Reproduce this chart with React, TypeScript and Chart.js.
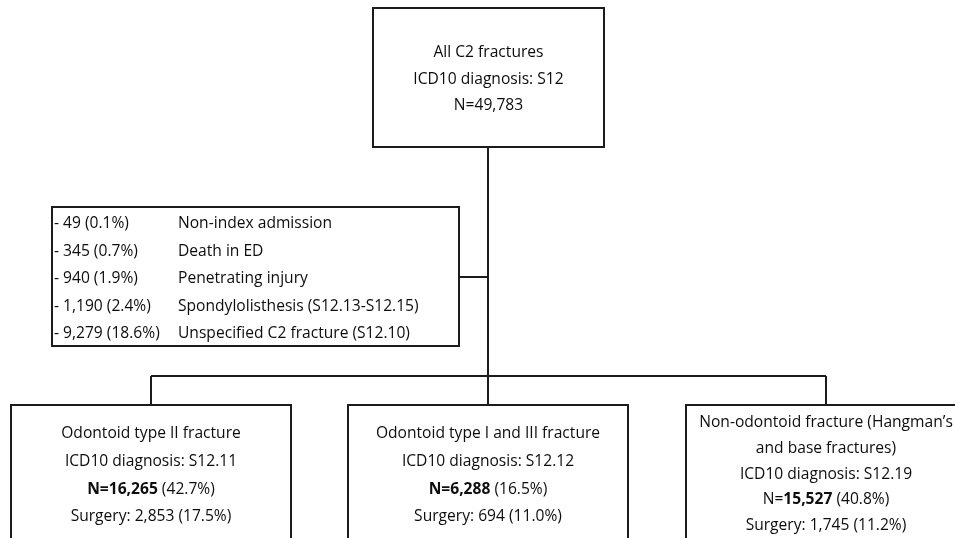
import React, { useEffect, useRef } from "react";
import { Chart, registerables } from "chart.js";

Chart.register(...registerables);

// ---- content ----
const TOP_LINES = ["All C2 fractures", "ICD10 diagnosis: S12", "N=49,783"];
const EXCL_COUNTS = ["- 49 (0.1%)", "- 345 (0.7%)", "- 940 (1.9%)", "- 1,190 (2.4%)", "- 9,279 (18.6%)"];
const EXCL_REASONS = [
  "Non-index admission",
  "Death in ED",
  "Penetrating injury",
  "Spondylolisthesis (S12.13-S12.15)",
  "Unspecified C2 fracture (S12.10)",
];
const GROUP_TITLES = [
  ["Odontoid type II fracture"],
  ["Odontoid type I and III fracture"],
  ["Non-odontoid fracture (Hangman\u2019s", "and base fractures)"],
];
const GROUP_CODES = ["S12.11", "S12.12", "S12.19"];
const GROUP_N = ["16,265", "6,288", "15,527"];
const GROUP_PCT = ["42.7%", "16.5%", "40.8%"];
const GROUP_BOLD_PREFIX = [true, true, false];
const SURGERY_N = ["2,853", "694", "1,745"];
const SURGERY_PCT = ["17.5%", "11.0%", "11.2%"];

// ---- layout (in scale units, canvas-sized) ----
const W = 955;
const H = 538;
const TOP_BOX = { x0: 373, x1: 604, y0: 8, y1: 147 };
const EXCL_BOX = { x0: 52, x1: 459, y0: 207, y1: 346 };
const GROUP_CENTERS = [151, 488, 826];
const GROUP_HALF = 140;
const GROUP_TOP = 405;
const MAIN_X = 488;
const EXCL_JOIN_Y = 277;
const BRANCH_Y = 376;

const FONT = '"Open Sans", "Noto Sans", sans-serif';
const SIZE = 15.6;
const INK = "#0d0d0d";
const LINE = "#1c1c1c";

type Seg = { t: string; bold?: boolean };

const flowPlugin = {
  id: "flow",
  afterDraw(chart: any) {
    const ctx: CanvasRenderingContext2D = chart.ctx;
    const xs = chart.scales.x;
    const ys = chart.scales.y;
    const px = (v: number) => xs.getPixelForValue(v);
    const py = (v: number) => ys.getPixelForValue(v);

    ctx.save();
    ctx.strokeStyle = LINE;
    ctx.lineWidth = 2;

    const rect = (b: { x0: number; x1: number; y0: number; y1: number }) => {
      ctx.strokeRect(px(b.x0), py(b.y0), px(b.x1) - px(b.x0), py(b.y1) - py(b.y0));
    };
    const seg = (x0: number, y0: number, x1: number, y1: number) => {
      ctx.beginPath();
      ctx.moveTo(px(x0), py(y0));
      ctx.lineTo(px(x1), py(y1));
      ctx.stroke();
    };

    // boxes
    rect(TOP_BOX);
    rect(EXCL_BOX);
    GROUP_CENTERS.forEach((c) => rect({ x0: c - GROUP_HALF, x1: c + GROUP_HALF, y0: GROUP_TOP, y1: H + 20 }));

    // connectors
    seg(MAIN_X, TOP_BOX.y1, MAIN_X, BRANCH_Y);
    seg(EXCL_BOX.x1, EXCL_JOIN_Y, MAIN_X, EXCL_JOIN_Y);
    seg(GROUP_CENTERS[0], BRANCH_Y, GROUP_CENTERS[GROUP_CENTERS.length - 1], BRANCH_Y);
    GROUP_CENTERS.forEach((c) => seg(c, BRANCH_Y, c, GROUP_TOP));

    // text
    ctx.fillStyle = INK;
    ctx.textBaseline = "middle";
    const fontOf = (bold?: boolean) => `${bold ? "bold " : ""}${SIZE}px ${FONT}`;
    const drawCentered = (segs: Seg[], cx: number, cy: number) => {
      let total = 0;
      segs.forEach((s) => {
        ctx.font = fontOf(s.bold);
        total += ctx.measureText(s.t).width;
      });
      let x = px(cx) - total / 2;
      ctx.textAlign = "left";
      segs.forEach((s) => {
        ctx.font = fontOf(s.bold);
        ctx.fillText(s.t, x, py(cy));
        x += ctx.measureText(s.t).width;
      });
    };
    const drawLeft = (t: string, x: number, cy: number) => {
      ctx.font = fontOf(false);
      ctx.textAlign = "left";
      ctx.fillText(t, px(x), py(cy));
    };

    // top box
    const topCx = (TOP_BOX.x0 + TOP_BOX.x1) / 2;
    TOP_LINES.forEach((t, i) => drawCentered([{ t }], topCx, 53 + i * 26.5));

    // exclusion box
    EXCL_COUNTS.forEach((t, i) => {
      const cy = 224 + i * 27.5;
      drawLeft(t, 54, cy);
      drawLeft(EXCL_REASONS[i], 178, cy);
    });

    // group boxes
    GROUP_CENTERS.forEach((c, g) => {
      const lines: Seg[][] = [];
      GROUP_TITLES[g].forEach((t) => lines.push([{ t }]));
      lines.push([{ t: "ICD10 diagnosis: " + GROUP_CODES[g] }]);
      if (GROUP_BOLD_PREFIX[g]) {
        lines.push([{ t: "N=" + GROUP_N[g], bold: true }, { t: " (" + GROUP_PCT[g] + ")" }]);
      } else {
        lines.push([{ t: "N=" }, { t: GROUP_N[g], bold: true }, { t: " (" + GROUP_PCT[g] + ")" }]);
      }
      lines.push([{ t: "Surgery: " + SURGERY_N[g] + " (" + SURGERY_PCT[g] + ")" }]);
      const start = lines.length > 4 ? 423 : 434;
      const step = lines.length > 4 ? 25.6 : 27.6;
      lines.forEach((l, i) => drawCentered(l, c, start + i * step));
    });

    ctx.restore();
  },
};

export default function App() {
  const ref = useRef<HTMLCanvasElement | null>(null);
  useEffect(() => {
    document.body.style.margin = "0";
    const canvas = ref.current;
    if (!canvas) return;
    const chart = new Chart(canvas, {
      type: "scatter",
      data: { datasets: [{ data: [], pointRadius: 0 }] },
      options: {
        animation: false,
        responsive: false,
        maintainAspectRatio: false,
        devicePixelRatio: 1,
        layout: { padding: 0 },
        plugins: { legend: { display: false }, tooltip: { enabled: false } },
        scales: {
          x: { type: "linear", min: 0, max: W, display: false },
          y: { type: "linear", min: 0, max: H, reverse: true, display: false },
        },
      },
      plugins: [flowPlugin],
    });
    return () => chart.destroy();
  }, []);
  return (
    <div style={{ position: "fixed", left: 0, top: 0, width: W, height: H, background: "#fff" }}>
      <canvas ref={ref} width={W} height={H} style={{ width: W, height: H, display: "block" }} />
    </div>
  );
}
